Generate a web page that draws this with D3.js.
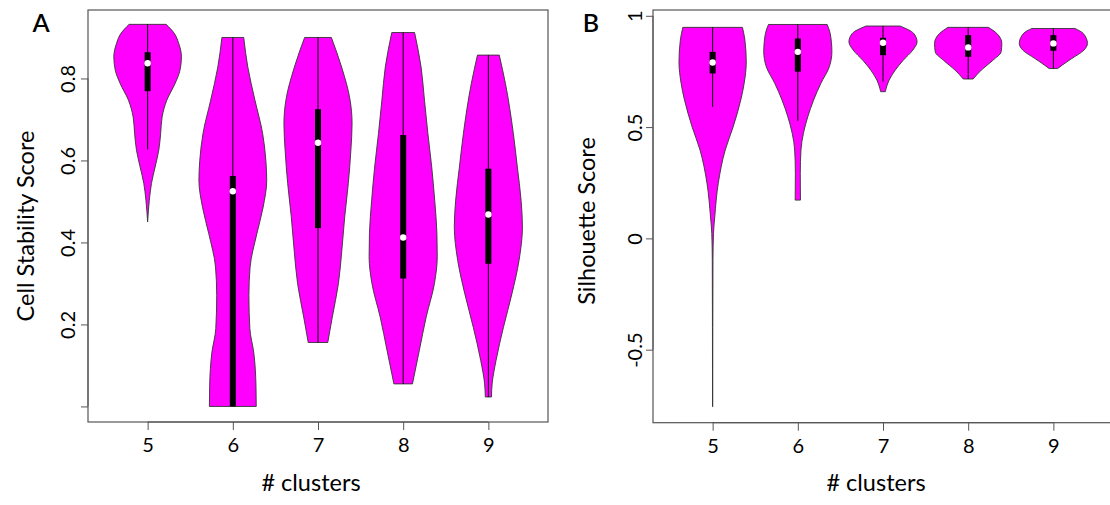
<!DOCTYPE html>
<html>
<head>
<meta charset="utf-8">
<script src="https://cdn.jsdelivr.net/npm/d3@7"></script>
<style>
  body { margin: 0; background: #fff; }
  svg { display: block; font-family: Lato, "Open Sans", sans-serif; }
</style>
</head>
<body>
<svg id="chart" width="1110" height="505"></svg>
<script>
// categories on both panels
const clusters = ["5", "6", "7", "8", "9"];

// ---- panel A : cell stability ----
const stabilityTicks = [0, 0.2, 0.4, 0.6, 0.8];
const stabilityTickLabels = ["", "0.2", "0.4", "0.6", "0.8"];
const stabilityMedian = [0.837, 0.525, 0.643, 0.412, 0.468];
const stabilityQ1 = [0.769, 0.0, 0.435, 0.312, 0.348];
const stabilityQ3 = [0.864, 0.562, 0.725, 0.662, 0.580];
const stabilityLow = [0.627, 0.0, 0.156, 0.055, 0.023];
const stabilityHigh = [0.932, 0.90, 0.90, 0.912, 0.857];
// violin outline: [score, half width in category units]
const stabilityDensity = [
  [[0.932, 0.217], [0.91, 0.313], [0.885, 0.366], [0.853, 0.397], [0.82, 0.38], [0.788, 0.323], [0.747, 0.225],
   [0.706, 0.17], [0.666, 0.153], [0.625, 0.131], [0.584, 0.088], [0.544, 0.045], [0.503, 0.02], [0.45, 0]],
  [[0.90, 0.128], [0.828, 0.176], [0.747, 0.26], [0.666, 0.35], [0.60, 0.388], [0.552, 0.398], [0.486, 0.356],
   [0.422, 0.283], [0.34, 0.203], [0.27, 0.189], [0.19, 0.2], [0.13, 0.247], [0.05, 0.272], [0.0, 0.275]],
  [[0.90, 0.157], [0.828, 0.277], [0.747, 0.377], [0.69, 0.40], [0.625, 0.386], [0.544, 0.356], [0.463, 0.314],
   [0.381, 0.28], [0.30, 0.24], [0.218, 0.168], [0.156, 0.115]],
  [[0.912, 0.134], [0.828, 0.21], [0.747, 0.25], [0.666, 0.29], [0.584, 0.335], [0.503, 0.37], [0.422, 0.396],
   [0.365, 0.40], [0.30, 0.367], [0.218, 0.27], [0.137, 0.19], [0.055, 0.109]],
  [[0.857, 0.128], [0.788, 0.2], [0.666, 0.293], [0.584, 0.34], [0.503, 0.384], [0.438, 0.40], [0.356, 0.36],
   [0.275, 0.277], [0.193, 0.177], [0.112, 0.09], [0.055, 0.044], [0.023, 0.036]]
];

// ---- panel B : silhouette ----
const silhouetteTicks = [-0.5, 0, 0.5, 1];
const silhouetteTickLabels = ["-0.5", "0", "0.5", "1"];
const silhouetteMedian = [0.790, 0.838, 0.879, 0.858, 0.876];
const silhouetteQ1 = [0.741, 0.749, 0.823, 0.816, 0.843];
const silhouetteQ3 = [0.838, 0.898, 0.901, 0.913, 0.913];
const silhouetteLow = [0.591, 0.528, 0.704, 0.716, 0.763];
const silhouetteHigh = [0.948, 0.961, 0.954, 0.948, 0.943];
const silhouetteDensity = [
  [[0.948, 0.35], [0.891, 0.379], [0.793, 0.395], [0.696, 0.37], [0.621, 0.33], [0.50, 0.24], [0.397, 0.148],
   [0.247, 0.066], [0.097, 0.025], [0.022, 0.01], [-0.1, 0.004], [-0.4, 0.002], [-0.756, 0.001]],
  [[0.961, 0.344], [0.921, 0.38], [0.838, 0.40], [0.771, 0.37], [0.696, 0.27], [0.621, 0.185], [0.546, 0.117],
   [0.472, 0.066], [0.397, 0.037], [0.292, 0.029], [0.172, 0.031]],
  [[0.954, 0.2], [0.921, 0.36], [0.883, 0.40], [0.846, 0.35], [0.80, 0.237], [0.756, 0.144], [0.711, 0.072], [0.659, 0.027]],
  [[0.948, 0.237], [0.921, 0.335], [0.876, 0.395], [0.838, 0.387], [0.80, 0.29], [0.756, 0.154], [0.716, 0.058]],
  [[0.943, 0.253], [0.921, 0.35], [0.876, 0.40], [0.846, 0.36], [0.808, 0.216], [0.778, 0.103], [0.763, 0.05]]
];

const svg = d3.select("#chart");

function drawPanel(p) {
  const g = svg.append("g");

  // R style x range: 0.5..5.5 padded by 4%
  const x = d3.scaleLinear().domain([0.3, 5.7]).range([p.left, p.left + 460]);
  const y = d3.scaleLinear().domain(p.yDomain).range([p.bottom, p.top]);

  // violins
  const area = d3.area()
    .curve(d3.curveMonotoneY)
    .y(d => y(d[0]));

  p.density.forEach((dens, i) => {
    const c = i + 1;
    area.x0(d => x(c - d[1])).x1(d => x(c + d[1]));
    g.append("path")
      .attr("d", area(dens))
      .attr("fill", "#ff00ff")
      .attr("stroke", "#333")
      .attr("stroke-width", 0.9);

    // whisker
    g.append("line")
      .attr("x1", x(c)).attr("x2", x(c))
      .attr("y1", y(p.high[i])).attr("y2", y(p.low[i]))
      .attr("stroke", "#000").attr("stroke-width", 1);
    // box
    g.append("rect")
      .attr("x", x(c) - 3).attr("width", 6)
      .attr("y", y(p.q3[i])).attr("height", y(p.q1[i]) - y(p.q3[i]))
      .attr("fill", "#000");
    // median
    g.append("circle")
      .attr("cx", x(c)).attr("cy", y(p.median[i])).attr("r", 3.2)
      .attr("fill", "#fff");
  });

  // frame
  g.append("rect")
    .attr("x", p.left).attr("y", p.top)
    .attr("width", 460).attr("height", p.bottom - p.top)
    .attr("fill", "none").attr("stroke", "#555").attr("stroke-width", 1.2);

  // x axis
  const xa = g.append("g")
    .attr("transform", `translate(0,${p.bottom})`)
    .call(d3.axisBottom(x).tickValues([1, 2, 3, 4, 5])
      .tickFormat((d, i) => clusters[i]).tickSize(8).tickPadding(8));
  xa.select(".domain").attr("d", `M${x(1)},0H${x(5)}`).attr("stroke", "#555");
  xa.selectAll(".tick line").attr("stroke", "#555");
  xa.selectAll("text").attr("font-size", 20).attr("fill", "#000").attr("font-family", "Lato");

  // y axis, R style vertical labels
  const ya = g.append("g")
    .attr("transform", `translate(${p.left},0)`)
    .call(d3.axisLeft(y).tickValues(p.ticks)
      .tickFormat((d, i) => p.tickLabels[i]).tickSize(7).tickPadding(0));
  ya.select(".domain").attr("stroke", "#555")
    .attr("d", `M0,${y(p.ticks[0])}V${y(p.ticks[p.ticks.length - 1])}`);
  ya.selectAll(".tick line").attr("stroke", "#555");
  ya.selectAll("text")
    .attr("x", 0).attr("dy", 0)
    .attr("text-anchor", "middle")
    .attr("transform", `translate(${p.yLabelX - p.left},0) rotate(-90)`)
    .attr("dominant-baseline", "central")
    .attr("font-size", 20).attr("fill", "#000").attr("font-family", "Lato");

  // titles
  g.append("text")
    .attr("x", p.left + 223).attr("y", 491)
    .attr("text-anchor", "middle")
    .attr("font-size", 23.5).attr("fill", "#000")
    .text("# clusters");
  g.append("text")
    .attr("transform", `translate(${p.titleX},${p.titleY}) rotate(-90)`)
    .attr("text-anchor", "middle")
    .attr("dominant-baseline", "central")
    .attr("font-size", 23.5).attr("fill", "#000")
    .text(p.title);
  g.append("text")
    .attr("x", p.letterX).attr("y", 32)
    .attr("text-anchor", "middle")
    .attr("font-size", 25).attr("font-weight", 600).attr("fill", "#000")
    .text(p.letter);
}

drawPanel({
  left: 88, top: 10, bottom: 422, yDomain: [-0.038, 0.967],
  ticks: stabilityTicks, tickLabels: stabilityTickLabels,
  density: stabilityDensity, median: stabilityMedian, q1: stabilityQ1, q3: stabilityQ3,
  low: stabilityLow, high: stabilityHigh,
  yLabelX: 67, title: "Cell Stability Score", titleX: 25, titleY: 226,
  letter: "A", letterX: 41
});

drawPanel({
  left: 653, top: 10, bottom: 422.7, yDomain: [-0.828, 1.026],
  ticks: silhouetteTicks, tickLabels: silhouetteTickLabels,
  density: silhouetteDensity, median: silhouetteMedian, q1: silhouetteQ1, q3: silhouetteQ3,
  low: silhouetteLow, high: silhouetteHigh,
  yLabelX: 634, title: "Silhouette Score", titleX: 586, titleY: 221,
  letter: "B", letterX: 591
});
</script>
</body>
</html>
